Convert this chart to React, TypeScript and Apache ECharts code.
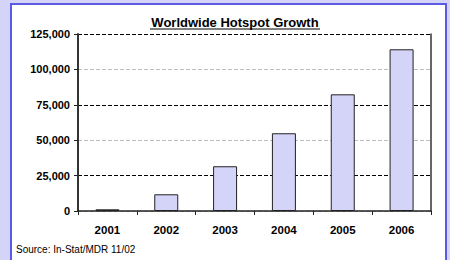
import React, { useEffect, useRef } from "react";
import * as echarts from "echarts";

const years = ["2001", "2002", "2003", "2004", "2005", "2006"];
const hotspots = [1200, 11800, 31600, 54900, 82400, 114200];
const yMin = 0;
const yMax = 125000;
const yStep = 25000;
const titleText = "Worldwide Hotspot Growth";
const sourceText = "Source: In-Stat/MDR 11/02";

const FONT = "'Liberation Sans', Arial, sans-serif";
const LAV = "#d4d4f9";
const BLUE = "#5a5ae4";

export default function App() {
  const ref = useRef<HTMLDivElement>(null);
  useEffect(() => {
    if (!ref.current) return;
    const chart = echarts.init(ref.current, null, { renderer: "svg" });
    const fmt = (v: number) => v.toLocaleString("en-US");
    chart.setOption({
      animation: false,
      backgroundColor: LAV,
      textStyle: { fontFamily: FONT },
      graphic: [
        {
          type: "rect",
          z: -10,
          shape: { x: 11, y: 4, width: 435, height: 270 },
          style: { fill: "#ffffff", stroke: BLUE, lineWidth: 2 },
        },
        {
          type: "text",
          x: 235,
          y: 22,
          style: {
            text: titleText,
            fontFamily: FONT,
            fontSize: 13,
            fontWeight: "bold",
            fill: "#000",
            textAlign: "center",
            textVerticalAlign: "middle",
          },
        },
        {
          type: "line",
          shape: { x1: 150, y1: 29, x2: 320, y2: 29 },
          style: { stroke: "#000", lineWidth: 1 },
        },
        {
          type: "text",
          x: 16,
          y: 249,
          style: {
            text: sourceText,
            fontFamily: FONT,
            fontSize: 10,
            fill: "#000",
            textAlign: "left",
            textVerticalAlign: "middle",
          },
        },
      ],
      grid: { left: 78, top: 34, right: 19, bottom: 49, containLabel: false },
      xAxis: {
        type: "category",
        data: years,
        axisLine: { show: true, lineStyle: { color: "#222", width: 1.5 } },
        axisTick: { show: true, length: 4, alignWithLabel: false, lineStyle: { color: "#222", width: 1 } },
        axisLabel: { color: "#000", fontFamily: FONT, fontSize: 11.5, fontWeight: "bold", margin: 13 },
        splitLine: { show: false },
      },
      yAxis: [
        {
          type: "value",
          min: yMin,
          max: yMax,
          interval: yStep,
          axisLine: { show: true, lineStyle: { color: "#333", width: 2 } },
          axisTick: { show: true, length: 4, lineStyle: { color: "#222", width: 1 } },
          axisLabel: {
            color: "#000",
            fontFamily: FONT,
            fontSize: 11,
            fontWeight: "bold",
            margin: 8,
            formatter: fmt,
          },
          splitLine: {
            show: true,
            lineStyle: { color: ["#bdbdbd", "#000"], type: [4, 2], width: 1 },
          },
        },
        {
          type: "value",
          position: "right",
          min: yMin,
          max: yMax,
          interval: yStep,
          axisLine: { show: true, lineStyle: { color: "#333", width: 1.5 } },
          axisTick: { show: false },
          axisLabel: { show: false },
          splitLine: { show: false },
        },
      ],
      series: [
        {
          type: "bar",
          data: hotspots,
          barWidth: 24,
          itemStyle: { color: LAV, borderColor: "#222", borderWidth: 1 },
        },
      ],
    });
    return () => chart.dispose();
  }, []);
  return (
    <div
      ref={ref}
      style={{ position: "absolute", left: 0, top: 0, width: 450, height: 260 }}
    />
  );
}
